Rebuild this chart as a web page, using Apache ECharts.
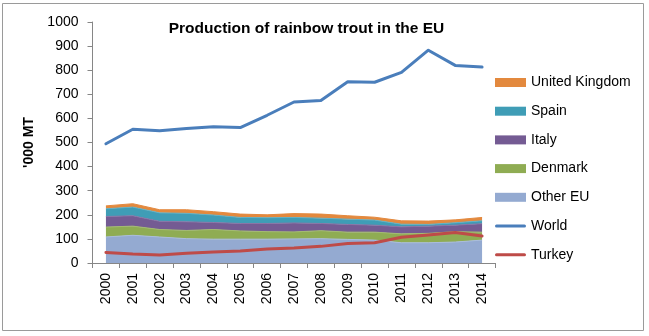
<!DOCTYPE html>
<html>
<head>
<meta charset="utf-8">
<script src="https://cdn.jsdelivr.net/npm/echarts@6/dist/echarts.min.js"></script>
<style>
html,body{margin:0;padding:0;background:#fff;}
#chart{width:649px;height:336px;}
</style>
</head>
<body>
<div id="chart"></div>
<script>
var years = ['2000','2001','2002','2003','2004','2005','2006','2007','2008','2009','2010','2011','2012','2013','2014'];
var otherEU = [108,115,108,101,99,99,99,100,101,98,95,84,84,87,95];
var denmark = [41,38,31,34,40,34,31,29,33,30,33,37,39,43,33];
var italy   = [44,43,34,36,29,31,34,37,30,32,29,29,30,27,35];
var spain   = [32,36,35,35,31,25,24,23,22,22,21,11,7,10,12];
var uk      = [12,14,13,15,14,14,12,16,17,14,12,14,14,12,14];
var world   = [495,555,549,558,565,562,613,668,674,752,750,791,883,820,813];
var turkey  = [44,37,33,40,46,50,58,62,69,81,84,107,116,127,112];
var yTicks  = [0,100,200,300,400,500,600,700,800,900,1000];

var FONT = 'Liberation Sans';
var LINE_ICON = 'path://M0,0h31v0.01H0Z M1.5,3h28a1.5,1.5 0 0 1 0,3h-28a1.5,1.5 0 0 1 0,-3Z M0,8.99h31v0.01H0Z';
var chart = echarts.init(document.getElementById('chart'), null, {renderer:'canvas'});

function area(name, data, color, lineColor) {
  return {
    name: name, type: 'line', stack: 'eu', data: data,
    symbol: 'none', smooth: false,
    lineStyle: {width: 1, color: lineColor},
    itemStyle: {color: color},
    areaStyle: {color: color, opacity: 1}
  };
}
function line(name, data, color) {
  return {
    name: name, type: 'line', data: data, symbol: 'none', z: 5,
    lineStyle: {width: 3, color: color, cap: 'round', join: 'round'},
    itemStyle: {color: color}
  };
}

chart.setOption({
  animation: false,
  backgroundColor: '#fff',
  textStyle: {fontFamily: FONT},
  graphic: [{
    type: 'rect', shape: {x: 2.5, y: 3.5, width: 641, height: 327},
    style: {fill: 'none', stroke: '#9a9a9a', lineWidth: 1}, silent: true
  }],
  title: {
    text: 'Production of rainbow trout in the EU',
    left: 301.5, top: 16, textAlign: 'center',
    textStyle: {fontFamily: FONT, fontSize: 15.5, fontWeight: 'bold', color: '#000'}
  },
  grid: {left: 92.5, right: 153.5, top: 22, bottom: 73, containLabel: false},
  legend: {
    orient: 'vertical', left: 490, top: 70.5, itemWidth: 31, itemHeight: 9, itemGap: 14.7,
    textStyle: {fontFamily: FONT, fontSize: 14, color: '#000', lineHeight: 14},
    data: [
      {name: 'United Kingdom', icon: 'rect'},
      {name: 'Spain', icon: 'rect'},
      {name: 'Italy', icon: 'rect'},
      {name: 'Denmark', icon: 'rect'},
      {name: 'Other EU', icon: 'rect'},
      {name: 'World', icon: LINE_ICON},
      {name: 'Turkey', icon: LINE_ICON}
    ]
  },
  xAxis: {
    type: 'category', data: years, boundaryGap: true,
    axisLine: {lineStyle: {color: '#868686', width: 1}},
    axisTick: {show: true, length: 5, alignWithLabel: false, lineStyle: {color: '#868686'}},
    axisLabel: {rotate: 90, margin: 10, fontSize: 14, color: '#000', fontFamily: FONT, interval: 0},
    splitLine: {show: false}
  },
  yAxis: {
    type: 'value', min: 0, max: 1000, interval: 100,
    name: "'000 MT", nameLocation: 'middle', nameGap: 46, nameRotate: 90,
    nameTextStyle: {fontFamily: FONT, fontSize: 14, fontWeight: 'bold', color: '#000'},
    axisLine: {show: true, lineStyle: {color: '#868686', width: 1}},
    axisTick: {show: true, length: 5, lineStyle: {color: '#868686'}},
    axisLabel: {margin: 14, fontSize: 14, color: '#000', fontFamily: FONT,
      formatter: function (v) { return yTicks.indexOf(v) >= 0 ? String(v) : ''; }},
    splitLine: {show: false}
  },
  series: [
    area('Other EU', otherEU, '#94AAD1', '#A9BCDD'),
    area('Denmark', denmark, '#8FAC53', '#A3BD6E'),
    area('Italy', italy, '#745B93', '#8A74A6'),
    area('Spain', spain, '#3F9DB6', '#62B1C6'),
    area('United Kingdom', uk, '#E3893E', '#E3893E'),
    line('World', world, '#4A7EBB'),
    line('Turkey', turkey, '#BE4B48')
  ]
});
</script>
</body>
</html>
